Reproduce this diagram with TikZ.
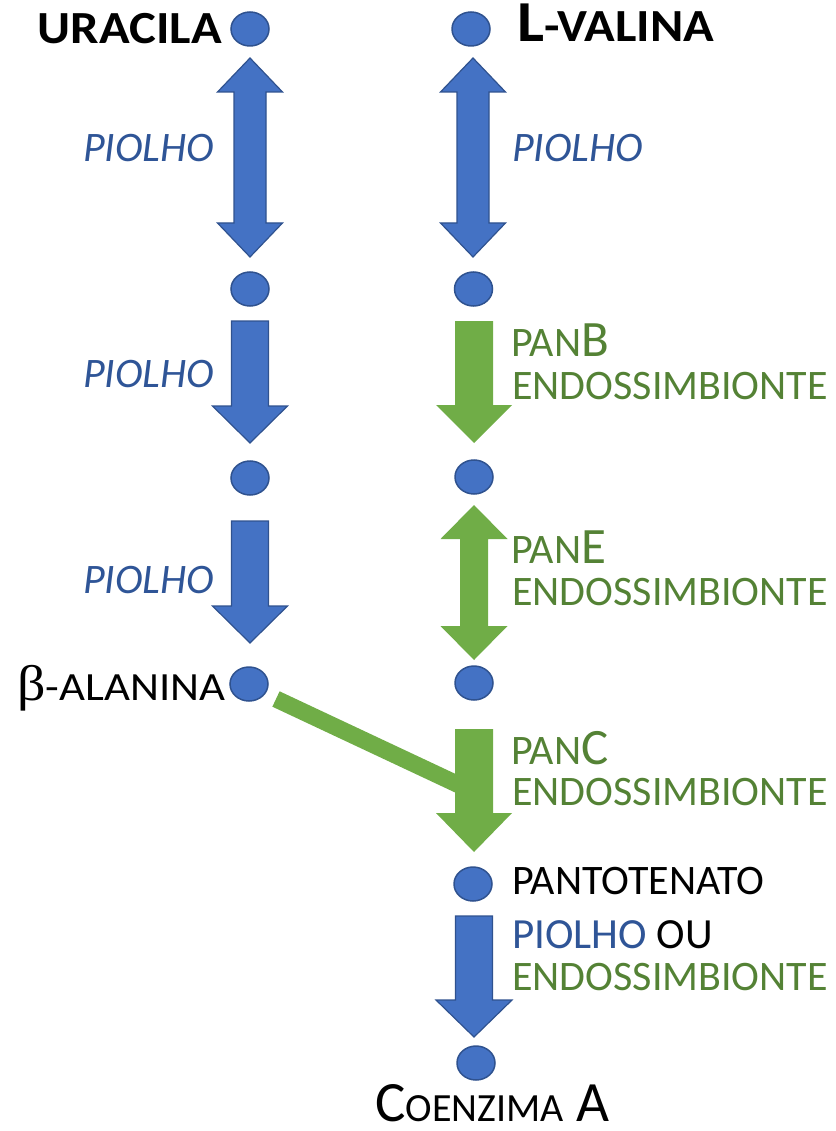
\documentclass[tikz,border=0pt]{standalone}
\usepackage{fontspec}
\setmainfont{Carlito}
\newfontfamily\greekserif{Liberation Serif}
\usetikzlibrary{shapes.geometric}
\definecolor{dotblue}{HTML}{4472C4}
\definecolor{dotedge}{HTML}{2F528F}
\definecolor{arrgreen}{HTML}{70AD47}
\definecolor{txtblue}{HTML}{2F5597}
\definecolor{txtgreen}{HTML}{548235}
\newcommand{\fs}[1]{\fontsize{#1}{#1}\selectfont}
% #1 style, #2 cx, #3 ytop, #4 ytip, #5 half shaft, #6 half head, #7 head length
\newcommand{\DownBlock}[7]{\path[#1] ({#2-#5},#3) -- ({#2+#5},#3) -- ({#2+#5},{#4-#7}) -- ({#2+#6},{#4-#7}) -- (#2,#4) -- ({#2-#6},{#4-#7}) -- ({#2-#5},{#4-#7}) -- cycle;}
\newcommand{\BothBlock}[7]{\path[#1] (#2,#3) -- ({#2+#6},{#3+#7}) -- ({#2+#5},{#3+#7}) -- ({#2+#5},{#4-#7}) -- ({#2+#6},{#4-#7}) -- (#2,#4) -- ({#2-#6},{#4-#7}) -- ({#2-#5},{#4-#7}) -- ({#2-#5},{#3+#7}) -- ({#2-#6},{#3+#7}) -- cycle;}
\begin{document}
\begin{tikzpicture}[x=1pt,y=-1pt,
 dot/.style={ellipse, fill=dotblue, draw=dotedge, line width=1.5pt, minimum width=38pt, minimum height=34pt, inner sep=0pt},
 lbl/.style={inner sep=0pt, anchor=base west},
 lblr/.style={inner sep=0pt, anchor=base east},
 bluearr/.style={fill=dotblue, draw=dotedge, line width=1.2pt, line join=miter},
 greenarr/.style={fill=arrgreen},
 greenbar/.style={draw=arrgreen, line width=17pt},
 piolho/.style={lbl, text=txtblue, font=\fs{42}\itshape},
 endo/.style={lbl, text=txtgreen, font=\fs{42}},
]
\useasboundingbox (0,0) rectangle (835,1131);

% green connector from beta-alanina into panC arrow
\coordinate (gbarA) at (276,699);
\coordinate (gbarB) at (474,792);
\draw[greenbar] (gbarA) -- (gbarB);

% block arrows
\BothBlock{bluearr}{250}{58}{257}{16}{32.5}{34}
\BothBlock{bluearr}{473}{58}{257}{16}{32.5}{34}
\DownBlock{bluearr}{250}{321}{443}{18.5}{37.5}{37}
\DownBlock{bluearr}{250}{521}{643}{18.5}{37.5}{37}
\DownBlock{greenarr}{474}{321}{443}{19}{38}{38}
\BothBlock{greenarr}{474}{505}{660}{14}{33.5}{34}
\DownBlock{greenarr}{474}{729}{852}{19}{38}{39}
\DownBlock{bluearr}{474}{916}{1037}{18.5}{38}{37}

% dots
\node[dot] (L0) at (250,29) {};
\node[dot] (L1) at (250,289) {};
\node[dot] (L2) at (250,478) {};
\node[dot] (L3) at (249,684) {};
\node[dot] (R0) at (471,29) {};
\node[dot] (R1) at (473.5,289) {};
\node[dot] (R2) at (474,477) {};
\node[dot] (R3) at (474,683) {};
\node[dot] (R4) at (473,884) {};
\node[dot] (R5) at (476,1063) {};

% labels
\node[lblr, font=\fs{46}\bfseries] (uracila) at (222,44) {\scalebox{1.1}[1]{URACILA}};
\node[lbl, font=\bfseries] (valina) at (517,42) {\scalebox{1.1}[1]{{\fs{58}L}{\fs{46}-VALINA}}};
\node[piolho] (p1) at (83,162) {PIOLHO};
\node[piolho] (p2) at (83,387) {PIOLHO};
\node[piolho] (p3) at (83,593) {PIOLHO};
\node[piolho] (p4) at (512,162) {PIOLHO};
\node[lbl, text=txtgreen] (panB) at (511,356) {{\fs{42}PAN}{\fs{51}B}};
\node[endo] (e1) at (512,399) {ENDOSSIMBIONTE};
\node[lbl, text=txtgreen] (panE) at (511,563) {{\fs{42}PAN}{\fs{51}E}};
\node[endo] (e2) at (512,605) {ENDOSSIMBIONTE};
\node[lbl, text=txtgreen] (panC) at (511,764) {{\fs{42}PAN}{\fs{51}C}};
\node[endo] (e3) at (512,805) {ENDOSSIMBIONTE};
\node[lbl] (beta) at (17,700) {\scalebox{1.12}[1]{{\greekserif\fs{50}β}{\fs{40}-ALANINA}}};
\node[lbl, font=\fs{42}] (panto) at (512,894) {PANTOTENATO};
\node[lbl, font=\fs{43}] (pou) at (512,948) {\textcolor{txtblue}{PIOLHO} OU};
\node[endo] (e4) at (512,990) {ENDOSSIMBIONTE};
\node[lbl, text depth=0pt] (coa) at (375,1121) {{\fs{57}C}{\fs{40}OENZIMA}{\fs{57} A}};
\end{tikzpicture}
\end{document}
